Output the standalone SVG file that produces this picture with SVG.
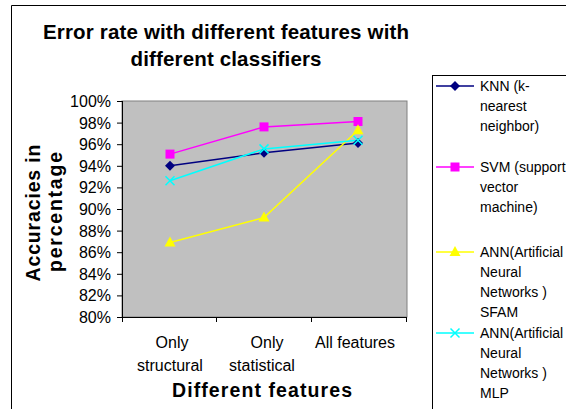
<svg xmlns="http://www.w3.org/2000/svg" width="566" height="409" viewBox="0 0 566 409">
<style>
text{font-family:"Liberation Sans",Arial,sans-serif;fill:#000}
.t{font-size:20.5px;font-weight:bold;text-anchor:middle}
.a{font-size:19.5px;font-weight:bold;text-anchor:middle}
.yl{font-size:16px;text-anchor:end}
.xl{font-size:16px;text-anchor:middle}
.lg{font-size:14px}
.ax{stroke:#000;stroke-width:1;fill:none}
.knn{stroke:#000080;stroke-width:1.5;fill:none}
.svm{stroke:#FF00FF;stroke-width:1.5;fill:none}
.sfam{stroke:#FFFF00;stroke-width:1.5;fill:none}
.mlp{stroke:#00FFFF;stroke-width:1.5;fill:none}
</style>
<defs>
<path id="dia" d="M0,-5 L5,0 L0,5 L-5,0 Z" fill="#000080"/>
<rect id="sq" x="-4.5" y="-4.5" width="9" height="9" fill="#FF00FF"/>
<path id="tri" d="M0,-6 L5.5,4 L-5.5,4 Z" fill="#FFFF00"/>
<path id="crs" d="M-4.5,-4.5 L4.5,4.5 M-4.5,4.5 L4.5,-4.5" stroke="#00FFFF" stroke-width="1.5"/>
</defs>
<rect x="0" y="0" width="566" height="409" fill="#fff"/>
<path d="M11.5,409 V5.5 H566" class="ax"/>
<g id="title">
<text class="t" x="226" y="39" textLength="366" lengthAdjust="spacing">Error rate with different features with</text>
<text class="t" x="226" y="66" textLength="191" lengthAdjust="spacing">different classifiers</text>
</g>
<g id="plot">
<rect x="122" y="101" width="285" height="216" fill="#C0C0C0" stroke="#808080" stroke-width="1"/>
<path d="M122.5,101 V317.5 H407" class="ax"/>
<path class="ax" d="M117,101.5h5M117,123.1h5M117,144.7h5M117,166.3h5M117,187.9h5M117,209.5h5M117,231.1h5M117,252.7h5M117,274.3h5M117,295.9h5M117,317.5h5"/>
<path class="ax" d="M122.5,317v5M216.5,317v5M311.5,317v5M406.5,317v5"/>
</g>
<g id="yaxis-labels">
<text class="yl" x="111" y="107">100%</text>
<text class="yl" x="111" y="128.6">98%</text>
<text class="yl" x="111" y="150.2">96%</text>
<text class="yl" x="111" y="171.8">94%</text>
<text class="yl" x="111" y="193.4">92%</text>
<text class="yl" x="111" y="215">90%</text>
<text class="yl" x="111" y="236.6">88%</text>
<text class="yl" x="111" y="258.2">86%</text>
<text class="yl" x="111" y="279.8">84%</text>
<text class="yl" x="111" y="301.4">82%</text>
<text class="yl" x="111" y="323">80%</text>
</g>
<g id="ytitle">
<text class="a" transform="translate(40,213) rotate(-90)" textLength="137" lengthAdjust="spacing">Accuracies in</text>
<text class="a" transform="translate(62,212) rotate(-90)" textLength="120" lengthAdjust="spacing">percentage</text>
</g>
<g id="xaxis-labels">
<text class="xl" x="172" y="348">Only</text>
<text class="xl" x="170" y="371">structural</text>
<text class="xl" x="267" y="348">Only</text>
<text class="xl" x="262" y="371">statistical</text>
<text class="xl" x="355" y="348">All features</text>
</g>
<g id="xtitle">
<text class="a" x="262" y="397" textLength="180" lengthAdjust="spacing">Different features</text>
</g>
<g id="connectors">
<polyline class="knn" points="170,165.8 264,152.8 358,143.1"/>
<polyline class="svm" points="170,154.1 264,126.9 358,121.5"/>
<polyline class="sfam" points="170,242.5 264,217.6 358,130.2"/>
<polyline class="mlp" points="170,180.8 264,148.9 358,140.2"/>
</g>
<g id="knn-points">
<use href="#dia" x="170" y="165.8"/><use href="#dia" x="264" y="152.8"/><use href="#dia" x="358" y="143.1"/>
</g>
<g id="svm-points">
<use href="#sq" x="170" y="154.1"/><use href="#sq" x="264" y="126.9"/><use href="#sq" x="358" y="121.5"/>
</g>
<g id="sfam-points">
<use href="#tri" x="170" y="242.5"/><use href="#tri" x="264" y="217.6"/><use href="#tri" x="358" y="130.2"/>
</g>
<g id="mlp-points">
<use href="#crs" x="170" y="180.8"/><use href="#crs" x="264" y="148.9"/><use href="#crs" x="358" y="140.2"/>
</g>
<g id="legend">
<rect x="432.5" y="75.5" width="140" height="340" fill="#fff" stroke="#000" stroke-width="1"/>
<line class="knn" x1="436" y1="86" x2="474" y2="86"/><use href="#dia" x="455" y="86"/>
<text class="lg" x="480" y="91">KNN (k-</text>
<text class="lg" x="480" y="111">nearest</text>
<text class="lg" x="480" y="131">neighbor)</text>
<line class="svm" x1="436" y1="167" x2="474" y2="167"/><use href="#sq" x="455" y="167"/>
<text class="lg" x="480" y="172">SVM (support</text>
<text class="lg" x="480" y="192">vector</text>
<text class="lg" x="480" y="212">machine)</text>
<line class="sfam" x1="436" y1="252" x2="474" y2="252"/><use href="#tri" x="455" y="252"/>
<text class="lg" x="480" y="257">ANN(Artificial</text>
<text class="lg" x="480" y="277">Neural</text>
<text class="lg" x="480" y="297">Networks )</text>
<text class="lg" x="480" y="317">SFAM</text>
<line class="mlp" x1="436" y1="333" x2="474" y2="333"/><use href="#crs" x="455" y="333"/>
<text class="lg" x="480" y="338">ANN(Artificial</text>
<text class="lg" x="480" y="358">Neural</text>
<text class="lg" x="480" y="378">Networks )</text>
<text class="lg" x="480" y="398">MLP</text>
</g>
</svg>
